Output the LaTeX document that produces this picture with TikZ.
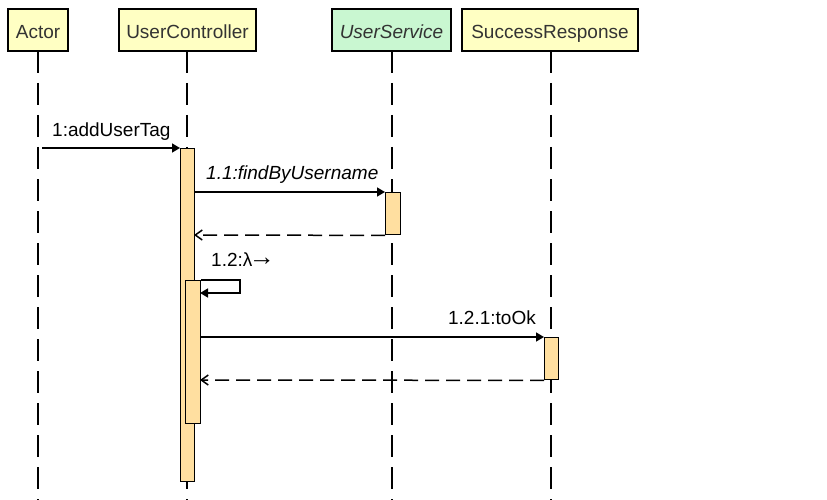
\documentclass[tikz,border=0pt]{standalone}
\usepackage{fontspec}
\setmainfont{Liberation Sans}
\usetikzlibrary{arrows.meta}
\definecolor{boxyellow}{HTML}{FFFFC3}
\definecolor{boxgreen}{HTML}{C9F7D1}
\definecolor{actfill}{HTML}{FFDFA0}
\definecolor{boxtext}{HTML}{333333}
\begin{document}
\begin{tikzpicture}[x=1pt,y=-1pt,
  every node/.style={font=\fontsize{19}{22}\selectfont},
  objbox/.style={draw=black,line width=1.8pt,inner sep=0pt,minimum height=42pt,anchor=north},
  objlabel/.style={anchor=base,text=boxtext,inner sep=0pt},
  lifeline/.style={line width=1.5pt,dash pattern=on 22pt off 10pt},
  actbox/.style={draw=black,line width=1.4pt,fill=actfill,inner sep=0pt,anchor=north west},
  msg/.style={line width=1.5pt,-{Triangle[length=8pt,width=9pt]}},
  ret/.style={line width=1.5pt,dash pattern=on 14pt off 7pt,-{Straight Barb[length=7pt,width=10pt]}},
  msglabel/.style={anchor=base west,inner sep=0pt,text=black}]
\useasboundingbox (0,0) rectangle (827,500);
\fill[white] (0,0) rectangle (827,500);
% object boxes
\node[objbox,fill=boxyellow,minimum width=60pt] (actor) at (38,8) {};
\node[objbox,fill=boxyellow,minimum width=137pt] (uc) at (187.5,8) {};
\node[objbox,fill=boxgreen,minimum width=119pt] (us) at (391.5,8) {};
\node[objbox,fill=boxyellow,minimum width=176pt] (sr) at (550,8) {};
\node[objlabel] (actorT) at (38,39) {Actor};
\node[objlabel] (ucT) at (187.5,39) {UserController};
\node[objlabel] (usT) at (391.5,39) {\itshape UserService};
\node[objlabel] (srT) at (550,39) {SuccessResponse};
% lifeline ends
\coordinate (actorE) at (38,500);
\coordinate (ucE) at (187,500);
\coordinate (usE) at (392,500);
\coordinate (srE) at (551,500);
\coordinate (actorS) at (38,51);
\coordinate (ucS) at (187,51);
\coordinate (usS) at (392,51);
\coordinate (srS) at (551,51);
\draw[lifeline] (actorS) -- (actorE);
\draw[lifeline] (ucS) -- (ucE);
\draw[lifeline] (usS) -- (usE);
\draw[lifeline] (srS) -- (srE);
% activations
\node[actbox,minimum width=14pt,minimum height=333pt] (act1) at (180,148) {};
\node[actbox,minimum width=15pt,minimum height=42pt] (act2) at (385,192) {};
\node[actbox,minimum width=15pt,minimum height=143pt] (act3) at (185,280) {};
\node[actbox,minimum width=14pt,minimum height=42pt] (act4) at (544,337) {};
% message 1
\coordinate (m1s) at (42,148);
\draw[msg] (m1s) -- (act1.north west);
\node[msglabel] (l1) at (52,136) {1:addUserTag};
% message 1.1
\coordinate (m2s) at (194,192);
\draw[msg] (m2s) -- (act2.north west);
\node[msglabel] (l2) at (206,179) {\itshape 1.1:findByUsername};
% return 1.1
\coordinate (r2e) at (194,235);
\draw[ret] (act2.south west) -- (r2e);
% self message 1.2
\coordinate (s1) at (240,280);
\coordinate (s2) at (240,293);
\coordinate (s3) at (200,293);
\draw[msg] (act3.north east) -- (s1) -- (s2) -- (s3);
\node[msglabel] (l3) at (211,266) {1.2:λ\kern-3.5pt\raisebox{1pt}{\fontsize{26}{26}\selectfont →}};
% message 1.2.1
\coordinate (m4s) at (200,337);
\draw[msg] (m4s) -- (act4.north west);
\node[msglabel,anchor=base east] (l4) at (536,324) {1.2.1:toOk};
% return 1.2.1
\coordinate (r4e) at (200,380);
\draw[ret] (act4.south west) -- (r4e);
\end{tikzpicture}
\end{document}
